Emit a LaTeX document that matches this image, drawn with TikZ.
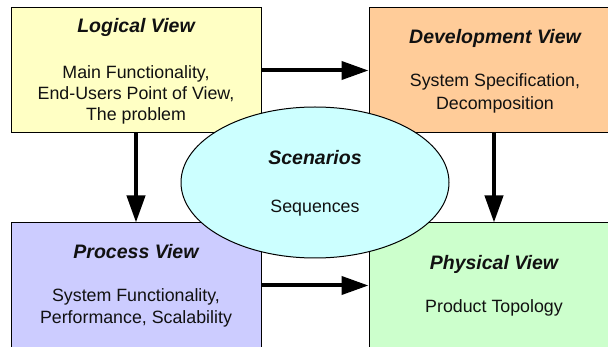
\documentclass[tikz,border=0pt]{standalone}
\usepackage{fontspec}
\setmainfont{Liberation Sans}
\usetikzlibrary{arrows.meta,shapes.geometric}

\definecolor{logicalfill}{HTML}{FFFFC4}
\definecolor{devfill}{HTML}{FFCC99}
\definecolor{procfill}{HTML}{CCCCFF}
\definecolor{physfill}{HTML}{CCFFCC}
\definecolor{scenfill}{HTML}{CCFFFF}
\definecolor{inktext}{HTML}{111111}

\tikzset{
  viewbox/.style={draw=black, line width=1pt, minimum width=250pt, minimum height=125pt, inner sep=0pt},
  titletext/.style={anchor=base, inner sep=0pt, text=inktext, font=\fontsize{19.5}{23}\selectfont\bfseries\itshape},
  bodytext/.style={anchor=base, inner sep=0pt, text=inktext, font=\fontsize{17.8}{21}\selectfont},
  flow/.style={line width=4pt, -{Triangle[length=27pt,width=18pt]}},
}

\begin{document}
\begin{tikzpicture}[x=1pt,y=-1pt]
  \useasboundingbox (0,0) rectangle (608,347);
  \clip (0,0) rectangle (608,347);

  % the four views
  \node[viewbox, fill=logicalfill] (logical) at (136,70.5) {};
  \node[viewbox, fill=devfill]     (develop) at (494,70.5) {};
  \node[viewbox, fill=procfill]    (process) at (136,285.5) {};
  \node[viewbox, fill=physfill]    (physical) at (494,285.5) {};

  % connectors between the views
  \draw[flow] (logical.east) -- (develop.west);
  \draw[flow] (process.east) -- (physical.west);
  \draw[flow] (logical.south) -- (process.north);
  \draw[flow] (develop.south) -- (physical.north);

  % scenarios in the middle
  \node[ellipse, draw=black, line width=1pt, fill=scenfill, minimum width=268pt, minimum height=151pt, inner sep=0pt] (scenarios) at (315,182.5) {};

  % labels
  \node[titletext] (logical-t) at (136,33) {Logical View};
  \node[bodytext]  (logical-1) at (136,79) {Main Functionality,};
  \node[bodytext]  (logical-2) at (136,100) {End-Users Point of View,};
  \node[bodytext]  (logical-3) at (136,121) {The problem};

  \node[titletext] (develop-t) at (495,44) {Development View};
  \node[bodytext]  (develop-1) at (495,87) {System Specification,};
  \node[bodytext]  (develop-2) at (495,110) {Decomposition};

  \node[titletext] (process-t) at (136,259) {Process View};
  \node[bodytext]  (process-1) at (136,302) {System Functionality,};
  \node[bodytext]  (process-2) at (136,324) {Performance, Scalability};

  \node[titletext] (physical-t) at (494,270) {Physical View};
  \node[bodytext]  (physical-1) at (494,313) {Product Topology};

  \node[titletext] (scenarios-t) at (315,165) {Scenarios};
  \node[bodytext]  (scenarios-1) at (315,212.5) {Sequences};
\end{tikzpicture}
\end{document}
